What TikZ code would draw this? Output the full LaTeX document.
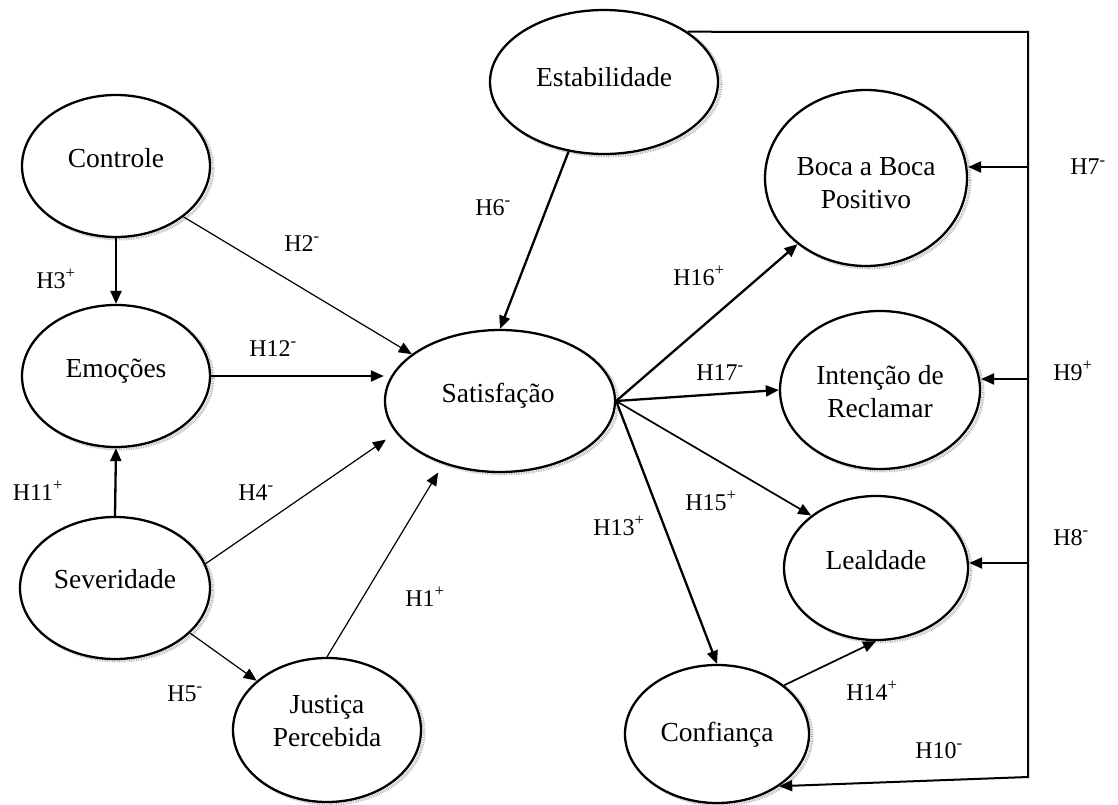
\documentclass[tikz,border=0pt]{standalone}
\usepackage{fontspec}
\setmainfont{Liberation Serif}
\usetikzlibrary{arrows.meta,shapes.geometric,backgrounds}
\begin{document}
\begin{tikzpicture}[x=1pt,y=-1pt,
  construct/.style={ellipse, draw, line width=2.3pt, fill=white, inner sep=0pt},
  rim/.style={draw=gray!55, line width=3pt, dash pattern=on 0.8pt off 0.9pt},
  ttl/.style={font=\fontsize{27.5}{33}\selectfont, align=center, inner sep=0pt},
  one/.style={text height=19pt, text depth=0pt},
  hyp/.style={font=\fontsize{24}{28}\selectfont, inner sep=0pt, text height=16pt, text depth=0pt},
  tip/.style={-{Triangle[length=13pt,width=11pt]}},
  thinarr/.style={tip, line width=1.2pt},
  midarr/.style={tip, line width=1.7pt},
  boldarr/.style={tip, line width=2.3pt},
]
\useasboundingbox (0,0) rectangle (1118,805);

% constructs
\node[construct, minimum width=188pt, minimum height=142pt] (ctrl) at (116,166) {};
\node[construct, minimum width=188pt, minimum height=142pt] (emo)  at (116,376) {};
\node[construct, minimum width=190pt, minimum height=142pt] (sev)  at (115,588) {};
\node[construct, minimum width=188pt, minimum height=144pt] (just) at (327,730) {};
\node[construct, minimum width=230pt, minimum height=142pt] (sat)  at (500,401) {};
\node[construct, minimum width=228pt, minimum height=144pt] (est)  at (604,82)  {};
\node[construct, minimum width=202pt, minimum height=176pt] (boca) at (866,178) {};
\node[construct, minimum width=200pt, minimum height=158pt] (intc) at (880,390) {};
\node[construct, minimum width=184pt, minimum height=144pt] (leal) at (876,568) {};
\node[construct, minimum width=184pt, minimum height=138pt] (conf) at (717,734) {};

% stippled rims behind the constructs
\begin{scope}[on background layer]
  \foreach \n/\rx/\ry in {ctrl/94/71, emo/94/71, sev/95/71, just/94/72, sat/115/71,
      est/114/72, boca/101/88, intc/100/79, leal/92/72, conf/92/69}
    \draw[rim] (\n.center) ++(3,2) ellipse [x radius=\rx, y radius=\ry];
\end{scope}

% construct names
\node[ttl, one] (ctrlT) at (116,158) {Controle};
\node[ttl, one] (emoT)  at (116,368) {Emoções};
\node[ttl, one] (sevT)  at (115,579) {Severidade};
\node[ttl]      (justT) at (327,721) {Justiça\\Percebida};
\node[ttl, one] (satT)  at (498,393) {Satisfação};
\node[ttl, one] (estT)  at (604,77)  {Estabilidade};
\node[ttl]      (bocaT) at (866,183) {Boca a Boca\\Positivo};
\node[ttl]      (intcT) at (880,392) {Intenção de\\Reclamar};
\node[ttl, one] (lealT) at (876,560) {Lealdade};
\node[ttl, one] (confT) at (717,732) {Confiança};

% frame line on the right
\coordinate (tr) at (1028,32);
\coordinate (br) at (1028,777);
\coordinate (j7) at (1028,167);
\coordinate (j9) at (1028,379);
\coordinate (j8) at (1028,563);

% antecedents of satisfaction
\draw[boldarr] (ctrl.south) -- (emo.north);
\draw[thinarr] (ctrl.-37) -- (sat.152);
\draw[boldarr] (emo.east) -- (emo.east -| sat.west);
\draw[boldarr] (sev.north) -- (emo.south);
\draw[thinarr, shorten >=12pt] (sev.15) -- (sat.197);
\draw[thinarr] (sev.-31) -- (just.145);
\draw[thinarr, shorten >=10pt] (just.north) -- (sat.-132);
\draw[boldarr] (est.-117) -- (sat.north);

% consequences of satisfaction
\draw[boldarr] (sat.east) -- (boca.-136);
\draw[boldarr] (sat.east) -- (intc.west);
\draw[midarr]  (sat.east) -- (leal.141);
\draw[boldarr] (sat.east) -- (conf.north);
\draw[midarr]  (conf.36) -- (leal.south);

% stability effects through the frame line
\draw[boldarr, line width=2pt] (est.31) -- (tr) -- (br) -- (conf.-40);
\draw[boldarr] (j7) -- (j7 -| boca.east);
\draw[boldarr] (j9) -- (j9 -| intc.east);
\draw[boldarr] (j8) -- (j8 -| leal.east);

% hypotheses
\node[hyp] (h2)  at (302,243) {H2\textsuperscript{-}};
\node[hyp] (h6)  at (493,207) {H6\textsuperscript{-}};
\node[hyp] (h12) at (273,348) {H12\textsuperscript{-}};
\node[hyp] (h3)  at (56,280)  {H3\textsuperscript{+}};
\node[hyp] (h11) at (38,492)  {H11\textsuperscript{+}};
\node[hyp] (h4)  at (256,492) {H4\textsuperscript{-}};
\node[hyp] (h5)  at (185,693) {H5\textsuperscript{-}};
\node[hyp] (h1)  at (425,598) {H1\textsuperscript{+}};
\node[hyp] (h16) at (699,277) {H16\textsuperscript{+}};
\node[hyp] (h17) at (720,372) {H17\textsuperscript{-}};
\node[hyp] (h15) at (711,502) {H15\textsuperscript{+}};
\node[hyp] (h13) at (619,527) {H13\textsuperscript{+}};
\node[hyp] (h14) at (872,692) {H14\textsuperscript{+}};
\node[hyp] (h10) at (939,750) {H10\textsuperscript{-}};
\node[hyp] (h7)  at (1088,167) {H7\textsuperscript{-}};
\node[hyp] (h9)  at (1073,372) {H9\textsuperscript{+}};
\node[hyp] (h8)  at (1071,537) {H8\textsuperscript{-}};
\end{tikzpicture}
\end{document}
